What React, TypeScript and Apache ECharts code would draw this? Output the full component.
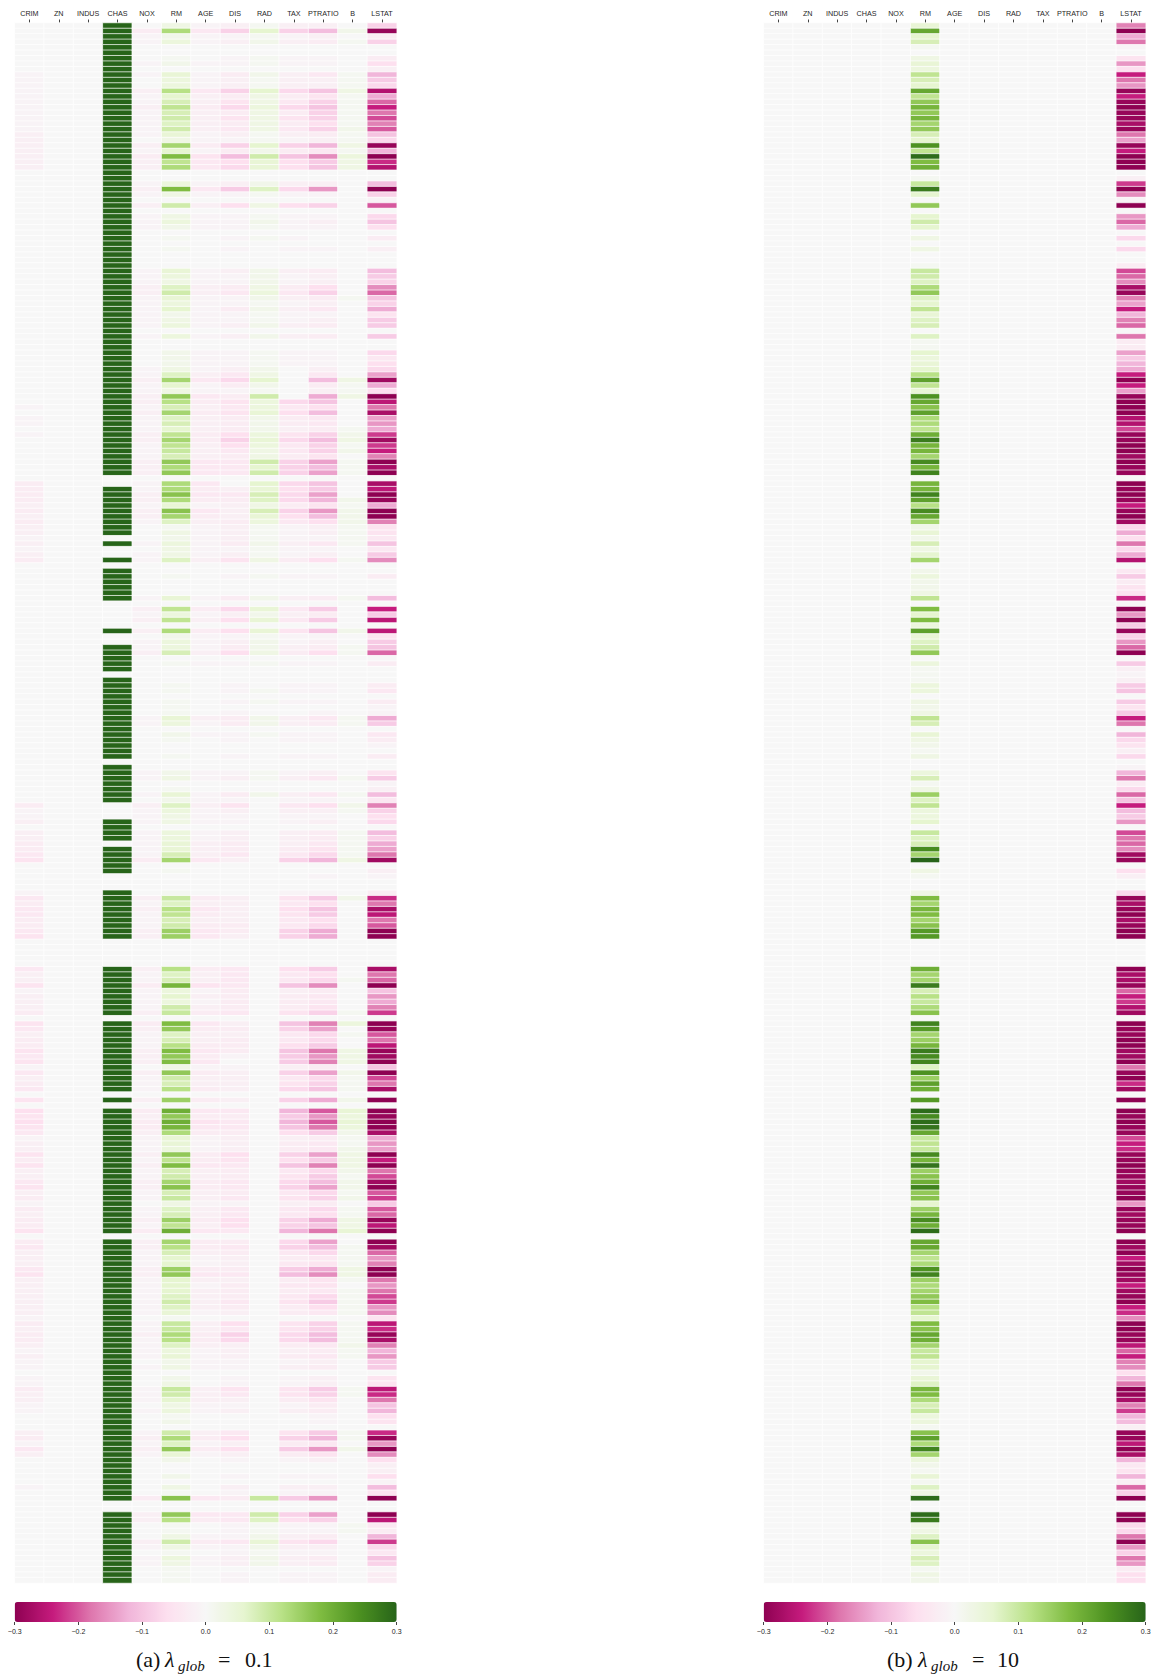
import React, { useEffect, useRef } from "react";
import * as echarts from "echarts";

const FEATURES = ["CRIM", "ZN", "INDUS", "CHAS", "NOX", "RM", "AGE", "DIS", "RAD", "TAX", "PTRATIO", "B", "LSTAT"];
const TICKS = [-0.3, -0.2, -0.1, 0, 0.1, 0.2, 0.3];
const PIYG = ["#8e0152", "#c51b7d", "#de77ae", "#f1b6da", "#fde0ef", "#f7f7f7", "#e6f5d0", "#b8e186", "#7fbc41", "#4d9221", "#276419"];
const ROW_COUNT = 286;

// All values in hundredths.
const LSTAT_A = [
  -8,-29,-3,-8,0,0,-3,-6,-2,-12, -9,-7,-26,-13,-19,-24,-18,-21,-17,-20,
  -10,-7,-29,-12,-30,-23,-26,0,0,-11, -30,-8,-1,-20,0,-7,-10,-6,0,-3,
  0,-2,0,0,0,-11,-9,-8,-16,-19, -10,-8,-13,-5,-9,-9,0,-9,0,0,
  -7,-4,-6,-7,-14,-28,-13,-6,-30,-25, -18,-27,-14,-15,-13,-22,-28,-22,-24,-17,
  -30,-27,-30,0,-27,-25,-30,-29,-13,-30, -30,-17,-5,-5,-4,-10,-4,-9,-16,0,
  0,-3,0,0,0,-11,0,-24,-9,-25, 0,-25,-5,-9,-10,-19,0,-3,0,0,
  0,-3,-4,0,-3,-1,-1,-13,-9,0, -4,-3,-1,0,-3,0,0,-5,-9,-1,
  -2,-11,-4,-17,-8,-6,-7,0,-11,-8, -13,-14,-18,-28,0,-2,-1,0,0,-3,
  -23,-18,-27,-25,-18,-20,-30,-30,0,0, 0,0,0,-27,-18,-19,-30,-10,-15,-13,
  -17,-22,0,-30,-29,-20,-18,-25,-29,-28, -30,-10,-30,-21,-18,-27,0,-30,0,-30,
  -29,-30,-30,-27,-13,-15,-14,-30,-24,-30, -18,-21,-28,-30,-20,-22,-9,-20,-19,-29,
  -25,-30,0,-30,-28,-19,-15,-17,-30,-30, -18,-15,-18,-21,-22,-15,-16,-5,-25,-23,
  -29,-27,-17,-12,-15,-9,-9,0,-5,-5, -25,-23,-18,-10,-12,-6,-5,0,-23,-29,
  -15,-30,-16,-6,-2,-2,-6,-1,-11,-5, -30,0,0,-30,-25,-4,-3,-12,-22,-7,
  -4,-10,-8,-1,-3,-3,
];
const RM_A = [
  3,13,2,4,0,0,1,2,0,5, 4,4,12,6,8,11,8,9,7,9,
  5,3,14,6,18,11,13,0,0,4, 18,3,0,9,0,3,4,2,0,1,
  0,1,0,0,0,5,4,3,7,9, 5,4,6,2,3,4,0,4,0,0,
  2,2,2,3,7,14,6,3,16,12, 8,14,7,8,6,11,14,11,10,8,
  16,13,16,0,13,13,17,13,5,17, 14,7,1,3,2,4,3,3,7,0,
  0,1,0,0,0,5,0,11,4,11, 0,13,2,4,4,8,0,1,0,0,
  0,1,1,0,1,1,1,5,4,0, 2,1,0,0,1,0,0,2,3,0,
  1,5,2,7,4,3,3,0,4,4, 5,5,8,14,0,1,0,0,0,1,
  10,7,12,11,8,9,15,15,0,0, 0,0,0,12,7,8,19,4,6,4,
  9,10,0,18,16,7,8,12,18,16, 18,3,16,9,8,12,0,15,0,20,
  16,20,19,13,5,5,4,16,11,18, 8,9,14,17,8,10,3,7,8,15,
  11,20,0,14,12,8,6,6,15,16, 6,6,6,7,9,7,5,1,10,10,
  13,12,7,4,5,2,3,0,2,3, 10,9,6,3,4,1,2,0,9,13,
  7,16,5,2,0,0,2,0,3,1, 17,0,0,16,12,1,1,3,9,3,
  1,4,3,1,1,1,
];
const CRIM_A = [
  0,0,0,0,0,0,0,0,0,-1, -1,-1,-1,-1,-1,-1,-1,-1,-1,-1,
  -2,-2,-2,-2,-2,-2,-2,0,0,0, 0,0,0,0,0,0,0,0,0,0,
  0,0,0,0,0,0,0,0,0,0, 0,0,0,0,0,0,0,0,0,0,
  0,0,0,0,0,0,0,0,0,0, -1,0,-1,-1,0,-1,0,0,0,0,
  0,0,0,0,-3,-3,-3,-3,-2,-3, -2,-3,-2,-2,-1,-2,-1,-2,-3,0,
  0,0,0,0,0,0,0,0,0,0, 0,0,0,0,0,0,0,0,0,0,
  0,0,0,0,0,0,0,0,0,0, 0,0,0,0,0,0,0,0,0,0,
  0,0,0,-3,-1,-1,-2,0,-2,-2, -3,-3,-4,-5,0,0,0,0,0,-1,
  -4,-3,-4,-4,-3,-3,-4,-5,0,0, 0,0,0,-4,-2,-2,-5,-1,-2,-2,
  -2,-3,0,-5,-4,-2,-3,-3,-5,-4, -5,-1,-4,-2,-3,-4,0,-5,0,-6,
  -5,-6,-5,-4,-1,-2,-2,-5,-3,-5, -2,-2,-4,-5,-2,-3,-1,-3,-2,-3,
  -3,-5,0,-3,-4,-2,-2,-2,-4,-5, -2,-2,-2,-2,-2,-2,-2,-1,-3,-2,
  -3,-3,-2,-1,-2,-1,-1,0,-1,-1, -3,-2,-2,-1,-1,0,0,0,-2,-3,
  -1,-4,-2,0,0,0,0,0,-1,0, 0,0,0,0,0,0,0,0,0,0,
  0,0,0,0,0,0,
];
const CHAS_A = [
  30,30,30,30,30,30,30,30,30,30, 30,30,30,30,30,30,30,30,30,30,
  30,30,30,30,30,30,30,30,30,30, 30,30,30,30,30,30,30,30,30,30,
  30,30,30,30,30,30,30,30,30,30, 30,30,30,30,30,30,30,30,30,30,
  30,30,30,30,30,30,30,30,30,30, 30,30,30,30,30,30,30,30,30,30,
  30,30,30,0,0,30,30,30,30,30, 30,30,30,30,0,30,0,0,30,0,
  30,30,30,30,30,30,0,0,0,0, 0,30,0,0,30,30,30,30,30,0,
  30,30,30,30,30,30,30,30,30,30, 30,30,30,30,30,0,30,30,30,30,
  30,30,30,0,0,0,30,30,30,30, 0,30,30,30,30,30,0,0,0,30,
  30,30,30,30,30,30,30,30,0,0, 0,0,0,30,30,30,30,30,30,30,
  30,30,0,30,30,30,30,30,30,30, 30,30,30,30,30,30,0,30,0,30,
  30,30,30,30,30,30,30,30,30,30, 30,30,30,30,30,30,30,30,30,30,
  30,30,0,30,30,30,30,30,30,30, 30,30,30,30,30,30,30,30,30,30,
  30,30,30,30,30,30,30,30,30,30, 30,30,30,30,30,30,30,30,30,30,
  30,30,30,30,30,30,30,30,30,30, 30,0,0,30,30,30,30,30,30,30,
  30,30,30,30,30,30,
];
const NOX_A = [
  0,-3,-1,-1,0,0,0,-1,0,-1, 0,0,-2,-1,-1,-2,-1,-1,-1,-1,
  -1,0,-2,-1,-3,-2,-2,0,0,-1, -2,-1,0,-2,0,-1,-1,-1,0,0,
  0,0,0,0,0,-1,-1,-1,-2,-2, -1,-1,-1,-1,-1,-1,0,-1,0,0,
  0,0,0,-1,-1,-2,-1,-1,-2,-2, -1,-2,-1,-1,-1,-2,-2,-1,-1,-1,
  -2,-2,-2,0,-1,-1,-2,-2,-1,-2, -2,-1,0,0,0,-1,0,-1,-1,0,
  0,0,0,0,0,-1,0,-2,-1,-2, 0,-2,0,-1,-1,-2,0,0,0,0,
  0,0,0,0,0,0,0,-1,-1,0, 0,0,0,0,0,0,0,-1,-1,0,
  0,-1,0,-2,-1,-1,-1,0,-1,-1, -1,-1,-1,-3,0,0,0,0,0,0,
  -2,-1,-2,-1,-1,-1,-2,-2,0,0, 0,0,0,-2,-1,-1,-3,-1,-1,-1,
  -1,-2,0,-3,-2,-1,-1,-1,-2,-2, -2,0,-2,-1,-1,-1,0,-2,0,-3,
  -2,-3,-3,-2,-1,-1,-1,-2,-1,-2, -1,-1,-2,-2,-1,-1,0,-1,-1,-2,
  -1,-3,0,-2,-2,-1,-1,-1,-2,-2, -1,-1,-1,-1,-1,-1,-1,0,-1,-1,
  -2,-1,-1,-1,-1,0,-1,0,0,0, -1,-1,-1,0,-1,0,0,0,-1,-2,
  -1,-2,-1,0,0,0,0,0,0,0, -3,0,0,-2,-2,0,0,0,-2,-1,
  0,-1,-1,0,0,0,
];
const AGE_A = [
  -1,-4,-1,-1,0,0,0,-1,0,-1, -1,-1,-4,-2,-2,-3,-2,-2,-2,-2,
  -1,-1,-3,-1,-5,-4,-4,0,0,-1, -4,-1,0,-2,0,-1,-1,-1,0,0,
  0,0,0,0,0,-1,-1,-1,-2,-2, -1,-1,-1,-1,-1,-1,0,-1,0,0,
  -1,-1,-1,-1,-2,-4,-1,-1,-4,-3, -2,-3,-2,-2,-2,-3,-3,-2,-2,-2,
  -4,-4,-4,0,-4,-3,-4,-3,-1,-4, -3,-2,-1,-1,-1,-1,-1,-1,-2,0,
  0,0,0,0,0,-1,0,-3,-1,-2, 0,-3,-1,-1,-1,-2,0,-1,0,0,
  0,0,0,0,0,0,0,-2,-1,0, -1,0,0,0,0,0,0,-1,-1,0,
  0,-1,-1,-2,-1,-1,-1,0,-1,-1, -2,-2,-2,-4,0,0,0,0,0,0,
  -3,-2,-4,-3,-2,-3,-4,-4,0,0, 0,0,0,-3,-2,-2,-5,-1,-2,-1,
  -2,-3,0,-4,-3,-2,-2,-3,-4,-3, -4,-1,-3,-2,-2,-3,0,-3,0,-4,
  -3,-5,-4,-3,-1,-1,-1,-3,-3,-4, -2,-2,-3,-3,-2,-2,-1,-2,-2,-3,
  -2,-4,0,-3,-3,-2,-1,-1,-3,-4, -2,-1,-2,-2,-2,-2,-1,0,-2,-2,
  -3,-3,-2,-1,-1,-1,-1,0,0,0, -2,-2,-2,-1,-1,0,0,0,-2,-3,
  -1,-3,-1,0,0,0,0,0,0,0, -4,0,0,-4,-3,0,0,-1,-3,-1,
  0,-1,-1,0,0,0,
];
const DIS_A = [
  -2,-8,-1,-2,0,0,-1,-1,0,-3, -2,-2,-8,-3,-5,-7,-3,-5,-3,-4,
  -2,-1,-8,-3,-11,-6,-7,0,0,-2, -9,-1,0,-6,0,-1,-1,-1,0,-1,
  0,-1,0,0,0,-2,-1,-1,-3,-4, -1,-1,-3,-1,-1,-2,0,-2,0,0,
  -1,-1,-1,-2,-4,-7,-3,-1,-3,-5, -4,-5,-3,-3,-3,-6,-8,-6,-4,-3,
  -4,-4,-4,0,0,-2,-4,-3,-2,-2, -2,-3,-2,-2,-2,-3,-1,-2,-5,0,
  0,-1,0,0,0,-3,0,-7,-2,-6, 0,-6,-1,-2,-3,-6,0,-1,0,0,
  0,-1,-1,0,-1,0,-1,-3,-3,0, -1,-1,0,0,-1,0,0,-1,-2,0,
  0,-3,-1,-5,-2,-1,-1,0,-2,-2, -3,-3,-4,-2,0,0,0,0,0,0,
  -2,-2,-2,-2,-2,-3,-3,-2,0,0, 0,0,0,-4,-4,-4,-4,-3,-3,-3,
  -3,-4,0,-2,-3,-2,-3,-3,-3,-1, 0,-1,-2,-2,-2,-2,0,-2,0,-4,
  -3,-4,-4,-3,-2,-2,-2,-6,-5,-4, -3,-3,-4,-4,-3,-4,-1,-4,-4,-6,
  -6,-4,0,-3,-4,-3,-2,-2,-3,-4, -2,-3,-3,-3,-4,-3,-2,0,-6,-4,
  -8,-7,-2,-2,-2,-1,-1,0,-1,-1, -5,-4,-2,-1,-2,0,0,0,-4,-6,
  -2,-6,-2,-1,0,0,-1,0,-2,-1, -3,0,0,-4,-4,-1,-1,-1,-4,-1,
  -1,-2,-2,0,-1,-1,
];
const RAD_A = [
  1,6,1,2,0,0,1,1,0,2, 1,1,6,3,3,4,3,3,3,3,
  1,1,6,2,9,5,5,0,0,2, 7,1,0,3,0,1,2,1,0,1,
  0,0,0,0,0,2,2,2,3,4, 2,1,2,1,1,2,0,2,0,0,
  1,1,1,2,3,6,2,1,9,4, 4,5,2,2,2,4,5,4,3,3,
  9,6,9,0,6,5,8,7,3,8, 5,4,1,1,1,2,1,1,3,0,
  0,1,0,0,0,2,0,5,2,5, 0,5,1,2,2,3,0,1,0,0,
  0,0,1,0,1,0,0,2,2,0, 1,0,0,0,0,0,0,1,1,0,
  0,2,0,0,0,0,0,0,0,0, 0,0,0,0,0,0,0,0,0,0,
  0,0,0,0,0,0,0,0,0,0, 0,0,0,0,0,0,0,0,0,0,
  0,0,0,0,0,0,0,0,0,0, 0,0,0,0,0,0,0,0,0,0,
  0,0,0,0,0,0,0,0,0,0, 0,0,0,0,0,0,0,0,0,0,
  0,0,0,0,0,0,0,0,0,0, 0,0,0,0,0,0,0,0,0,0,
  0,0,0,0,0,0,0,0,0,0, 0,0,0,0,0,0,0,0,0,0,
  0,0,0,0,0,0,0,0,0,0, 10,0,0,9,7,1,1,2,5,2,
  1,2,2,0,0,0,
];
const TAX_A = [
  -2,-8,-1,-2,0,0,-1,-1,0,-2, -2,-2,-7,-3,-4,-7,-3,-5,-3,-4,
  -2,-1,-8,-3,-10,-6,-6,0,0,-2, -7,-1,0,-6,0,-1,-1,-1,0,-1,
  0,-1,0,0,0,-2,-1,-1,-3,-4, -2,-1,-2,-1,-1,-2,0,-2,0,0,
  -1,-1,-1,0,0,0,0,0,0,-7, -4,-6,-3,-3,-2,-5,-7,-4,-4,-3,
  -8,-8,-8,0,-7,-6,-7,-7,-3,-8, -6,-4,-1,-1,-1,-2,-1,-1,-3,0,
  0,-1,0,0,0,-2,0,-4,-2,-4, 0,-5,-1,-1,-2,-3,0,-1,0,0,
  0,-1,-1,0,-1,0,0,-2,-2,0, -1,-1,0,0,-1,0,0,-1,-2,0,
  0,-2,-1,-4,-2,-1,-1,0,-2,-2, -2,-3,-4,-8,0,0,0,0,0,-1,
  -5,-4,-6,-5,-4,-4,-8,-8,0,0, 0,0,0,-6,-4,-4,-10,-2,-3,-3,
  -3,-5,0,-10,-8,-4,-4,-6,-10,-9, -9,-2,-8,-4,-5,-7,0,-8,0,-12,
  -9,-12,-10,-6,-2,-3,-3,-8,-6,-10, -4,-5,-7,-8,-4,-5,-2,-4,-4,-8,
  -8,-12,0,-7,-8,-4,-3,-4,-9,-11, -3,-4,-3,-4,-5,-3,-3,0,-5,-5,
  -7,-7,-3,-2,-3,-1,-2,0,-1,-1, -5,-5,-3,-1,-2,0,0,0,-5,-8,
  -3,-9,-3,-1,0,0,-1,0,-2,-1, -9,0,0,-8,-6,-1,-1,-2,-5,-2,
  -1,-2,-2,0,-1,-1,
];
const PTRATIO_A = [
  -2,-11,-2,-3,0,0,-1,-1,0,-4, -2,-2,-10,-5,-8,-10,-8,-8,-6,-8,
  -3,-2,-12,-4,-16,-9,-10,0,0,-2, -15,-1,0,-8,0,-1,-2,-1,0,0,
  0,-1,0,0,0,-3,-2,-2,-6,-8, -3,-2,-4,-1,-2,-3,0,-3,0,0,
  -1,-1,-1,-2,-4,-11,-3,-2,-13,-10, -6,-11,-4,-4,-3,-8,-11,-8,-8,-5,
  -14,-11,-14,0,-10,-9,-14,-12,-5,-15, -11,-6,-2,-2,-1,-4,-1,-2,-6,0,
  0,-1,0,0,0,-3,0,-9,-3,-9, 0,-10,-1,-2,-3,-6,0,-1,0,0,
  0,-1,-1,0,-1,0,-1,-4,-3,0, -1,-1,0,0,-1,0,0,-2,-4,0,
  0,-4,-1,-6,-2,-1,-2,0,-3,-3, -4,-5,-7,-12,0,0,-1,0,0,-1,
  -9,-6,-10,-9,-6,-7,-13,-13,0,0, 0,0,0,-9,-6,-7,-16,-3,-4,-4,
  -5,-8,0,-17,-14,-7,-7,-9,-18,-15, -17,-3,-14,-7,-8,-10,0,-13,0,-20,
  -15,-20,-18,-9,-3,-4,-4,-14,-9,-17, -7,-9,-11,-14,-7,-8,-3,-7,-6,-13,
  -10,-18,0,-14,-11,-7,-4,-5,-13,-16, -5,-5,-4,-7,-9,-6,-4,0,-8,-8,
  -11,-11,-4,-3,-4,-2,-3,0,-2,-2, -9,-8,-5,-3,-3,-1,-1,0,-9,-12,
  -4,-15,-5,-2,0,0,-1,0,-2,-1, -15,0,0,-14,-8,-1,-1,-3,-7,-2,
  -1,-3,-3,0,-1,-1,
];
const B_A = [
  0,2,0,1,0,0,0,0,0,1, 1,1,3,1,1,1,1,1,1,2,
  1,1,3,1,4,3,3,0,0,0, 0,0,0,0,0,0,0,0,0,0,
  0,0,0,0,0,0,0,0,0,0, 1,0,0,0,0,0,0,0,0,0,
  0,0,0,0,0,3,1,1,3,0, 0,0,0,0,1,2,3,1,2,0,
  1,1,1,0,0,0,0,2,1,2, 2,2,1,1,1,1,0,0,1,0,
  0,0,0,0,0,1,0,0,0,0, 0,2,0,0,1,1,0,0,0,0,
  0,0,0,0,0,0,0,1,1,0, 0,0,0,0,0,0,0,0,1,0,
  0,1,0,2,1,0,0,0,1,1, 1,1,1,3,0,0,0,0,0,0,
  2,0,0,0,0,0,0,0,0,0, 0,0,0,0,0,1,0,0,0,0,
  0,1,0,4,0,1,0,0,3,3, 3,0,2,1,1,1,0,2,0,5,
  4,5,4,2,1,1,2,3,3,3, 2,1,2,2,1,2,0,1,1,3,
  3,5,0,0,1,1,1,1,3,3, 1,0,1,1,1,1,1,0,1,1,
  1,1,2,1,1,0,0,0,0,0, 1,1,0,0,0,0,0,0,1,1,
  0,2,0,0,0,0,0,0,0,0, 0,0,0,0,0,1,1,0,0,0,
  0,0,0,0,0,0,
];

const RM_B = [
  5,21,6,8,1,0,3,5,4,11, 8,6,21,11,16,19,16,19,14,16,
  8,6,24,11,29,18,20,0,1,10, 27,6,0,16,0,6,9,6,0,3,
  0,3,0,0,1,10,9,7,13,16, 7,6,11,5,7,8,0,7,1,1,
  6,4,5,6,12,22,11,5,24,21, 17,22,13,13,11,20,27,19,19,14,
  25,19,26,0,19,19,26,22,12,25, 21,14,2,5,2,8,3,6,14,0,
  2,4,2,2,3,11,0,18,6,18, 4,22,5,7,9,16,0,4,1,1,
  1,4,4,0,3,2,3,11,8,0, 5,3,2,1,3,0,0,4,8,1,
  3,15,7,11,4,4,6,0,10,7, 8,25,14,30,0,3,1,0,0,3,
  18,14,19,18,14,17,23,23,0,0, 0,0,0,20,14,14,27,8,12,10,
  13,17,0,26,23,14,15,19,27,25, 26,7,24,15,22,20,0,23,0,29,
  25,29,28,21,10,11,10,25,19,28, 15,17,20,26,16,17,6,15,19,25,
  20,29,0,21,21,14,11,13,24,26, 15,13,14,16,18,12,11,6,18,17,
  21,20,14,10,11,6,6,2,5,7, 19,18,13,8,10,4,4,1,17,22,
  13,26,14,4,2,1,5,1,7,3, 29,0,0,29,27,3,3,7,17,6,
  4,8,7,1,3,2,
];
const LSTAT_B = [
  -17,-30,-13,-18,-1,0,-5,-15,-6,-24, -18,-15,-29,-24,-29,-30,-29,-29,-27,-29,
  -18,-14,-29,-24,-30,-30,-30,0,-2,-22, -30,-16,-1,-30,0,-15,-19,-13,0,-7,
  0,-7,0,0,-3,-21,-19,-16,-27,-29, -17,-14,-24,-12,-17,-19,0,-18,-3,-3,
  -14,-9,-12,-13,-24,-30,-24,-14,-29,-30, -30,-30,-26,-26,-21,-29,-29,-30,-30,-28,
  -30,-29,-29,0,-30,-29,-30,-29,-24,-29, -30,-28,-7,-13,-6,-18,-7,-13,-26,0,
  -4,-9,-3,-5,-5,-23,-1,-30,-15,-30, -9,-29,-8,-15,-19,-30,0,-9,-2,-1,
  -2,-9,-10,0,-9,-5,-9,-24,-18,0, -12,-7,-5,-2,-7,0,-1,-12,-18,-3,
  -7,-19,-10,-24,-11,-9,-15,0,-21,-18, -19,-16,-28,-29,0,-6,-2,0,0,-7,
  -29,-27,-29,-30,-27,-29,-30,-30,0,0, 0,0,0,-30,-27,-27,-29,-19,-24,-22,
  -26,-28,0,-30,-29,-29,-30,-30,-28,-28, -30,-18,-29,-30,-23,-28,0,-30,0,-30,
  -29,-30,-29,-29,-21,-24,-23,-29,-29,-30, -29,-29,-28,-29,-29,-30,-15,-29,-28,-29,
  -29,-30,0,-30,-28,-30,-24,-28,-30,-29, -28,-24,-28,-29,-30,-24,-23,-16,-30,-30,
  -29,-29,-25,-19,-24,-17,-16,-6,-12,-18, -30,-29,-27,-17,-22,-12,-11,-2,-29,-29,
  -25,-30,-27,-12,-4,-5,-12,-2,-19,-8, -30,0,0,-30,-30,-7,-7,-18,-30,-15,
  -8,-18,-15,-3,-6,-6,
];

const ZERO_COLUMN = new Array(ROW_COUNT).fill(0);
const PANEL_A = [CRIM_A, ZERO_COLUMN, ZERO_COLUMN, CHAS_A, NOX_A, RM_A, AGE_A, DIS_A, RAD_A, TAX_A, PTRATIO_A, B_A, LSTAT_A];
const PANEL_B = [ZERO_COLUMN, ZERO_COLUMN, ZERO_COLUMN, ZERO_COLUMN, ZERO_COLUMN, RM_B, ZERO_COLUMN, ZERO_COLUMN, ZERO_COLUMN, ZERO_COLUMN, ZERO_COLUMN, ZERO_COLUMN, LSTAT_B];

const ROWS = Array.from({ length: ROW_COUNT }, (_, i) => String(i));
const cells = (panel: number[][]) =>
  panel.flatMap((col, c) => ROWS.map((_, r) => [c, r, (col[r] ?? 0) / 100]));

const LABEL = "#262626";
const TICK = "#444";
const SANS = '"Liberation Sans", Arial, sans-serif';
const SERIF = '"Liberation Serif", "Times New Roman", serif';

const PANELS = [
  { left: 14.7, data: PANEL_A },
  { left: 763.7, data: PANEL_B },
];
const WIDTH = 382;

function caption(x: number[], tag: string, val: string) {
  const base = { fontFamily: SERIF, fill: "#111", textVerticalAlign: "bottom" };
  const t = (left: number, top: number, text: string, size: number, italic = false) => ({
    type: "text",
    left,
    top,
    style: { ...base, text, fontSize: size, fontStyle: italic ? "italic" : "normal" },
  });
  return [
    t(x[0], 1648, tag, 22),
    t(x[1], 1648, "λ", 22, true),
    t(x[2], 1658, "glob", 15, true),
    t(x[3], 1648, "=", 22),
    t(x[4], 1648, val, 22),
  ];
}

export default function App() {
  const ref = useRef<HTMLDivElement>(null);
  useEffect(() => {
    const chart = echarts.init(ref.current!, undefined, { renderer: "svg" });
    chart.setOption({
      animation: false,
      grid: [
        ...PANELS.map((p) => ({ left: p.left, top: 23, width: WIDTH, height: 1560 })),
        ...PANELS.map((p) => ({ left: p.left, top: 1602, width: WIDTH, height: 20 })),
      ],
      xAxis: [
        ...PANELS.map((_, i) => ({
          type: "category",
          gridIndex: i,
          position: "top",
          data: FEATURES,
          axisLine: { show: false },
          axisTick: { show: true, alignWithLabel: true, length: 3.5, lineStyle: { color: TICK, width: 1 } },
          axisLabel: { interval: 0, color: LABEL, fontSize: 7.2, fontFamily: SANS, margin: 6, hideOverlap: false },
          splitLine: { show: false },
        })),
        ...PANELS.map((_, i) => ({
          type: "value",
          gridIndex: i + 2,
          position: "bottom",
          min: TICKS[0],
          max: TICKS[TICKS.length - 1],
          interval: 0.1,
          axisLine: { show: false },
          axisTick: { show: true, length: 3, lineStyle: { color: TICK, width: 1 } },
          axisLabel: {
            color: LABEL,
            fontSize: 7,
            fontFamily: SANS,
            margin: 6,
            showMinLabel: true,
            showMaxLabel: true,
            formatter: (v: number) => v.toFixed(1).replace("-", "\u2212"),
          },
          splitLine: { show: false },
        })),
      ],
      yAxis: [
        ...PANELS.map((_, i) => ({ type: "category", gridIndex: i, data: ROWS, inverse: true, show: false })),
        ...PANELS.map((_, i) => ({ type: "value", gridIndex: i + 2, show: false })),
      ],
      visualMap: PANELS.map((p, i) => ({
        type: "continuous",
        seriesIndex: i,
        min: TICKS[0],
        max: TICKS[TICKS.length - 1],
        orient: "horizontal",
        left: p.left,
        top: 1602,
        itemWidth: 20,
        itemHeight: WIDTH,
        padding: 0,
        text: null,
        showLabel: false,
        calculable: false,
        hoverLink: false,
        inRange: { color: PIYG },
      })),
      series: PANELS.map((p, i) => ({
        type: "heatmap",
        xAxisIndex: i,
        yAxisIndex: i,
        data: cells(p.data),
        progressive: 0,
        silent: true,
        itemStyle: { borderColor: "#fff", borderWidth: 0.7 },
        emphasis: { disabled: true },
      })),
      graphic: [
        ...caption([136, 165, 178, 218, 245], "(a)", "0.1"),
        ...caption([887, 918, 931, 972, 997], "(b)", "10"),
      ],
    });
    return () => chart.dispose();
  }, []);
  return <div ref={ref} style={{ position: "absolute", left: 0, top: 0, width: 1154, height: 1677, background: "#fff" }} />;
}
